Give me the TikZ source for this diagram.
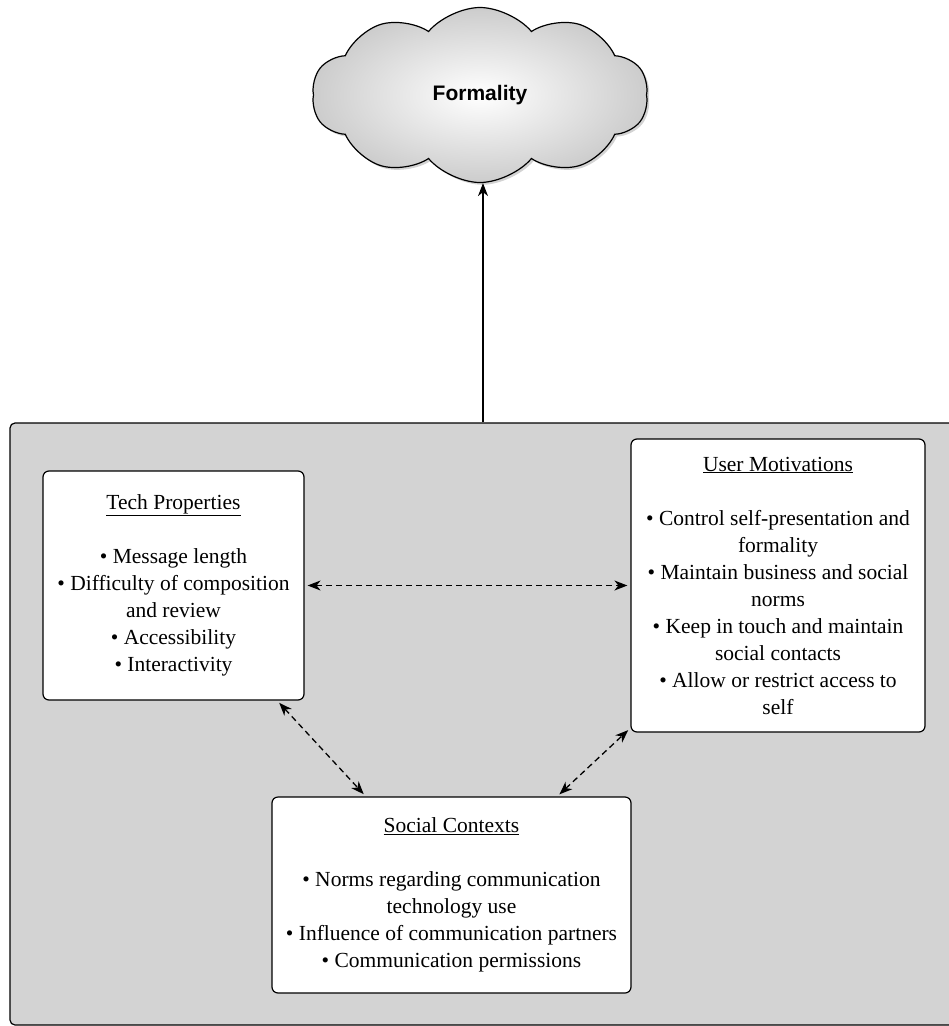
\documentclass[tikz,border=0pt]{standalone}
\usepackage{fontspec}
\setmainfont{Liberation Serif}
\setsansfont{Liberation Sans}
\usepackage{xcolor}
\usepackage{tikz}
\usetikzlibrary{shapes}
\usetikzlibrary{arrows}
\usetikzlibrary{positioning, fit, arrows.meta}
\usetikzlibrary{shadows}
\definecolor{panelgray}{RGB}{211,211,211}

\begin{document}
\begin{tikzpicture}[x=1pt, y=-1pt,
		box/.style 2 args={
			draw,
			rectangle,
			rounded corners=6pt,
			fill=white,
			line width=1.2pt,
			align=center,
			inner sep=0pt,
			minimum width=#1,
			minimum height=#2,
			font=\fontsize{21.5}{27}\selectfont},
		link/.style={
			{Stealth[length=13pt,width=10pt,inset=4pt]}-{Stealth[length=13pt,width=10pt,inset=4pt]},
			dash pattern=on 6pt off 4pt,
			line width=1.3pt,
			shorten <=3pt, shorten >=3pt}
		]
		\useasboundingbox (0,0) rectangle (949,1026);
		
		% draw the grey panel behind the three factors
		\node[draw, rectangle, rounded corners=5pt, fill=panelgray, line width=1.2pt,
			minimum width=946pt, minimum height=602pt] (panel) at (483, 724) {};
		
		% draw the cloud on top
		\node[draw, cloud, cloud puffs=10, cloud puff arc=100, aspect=2,
			line width=1.2pt, shading=radial, inner color=white, outer color=gray!40,
			drop shadow={opacity=0.35},
			minimum width=336pt, minimum height=175pt,
			font=\sffamily\bfseries\fontsize{21}{25}\selectfont] (formality) at (480, 95) {Formality};
		
		% draw the three factor boxes
		\node[box={261pt}{229pt}] (tech) at (173.5, 585.5) {\underline{Tech Properties}\\[27pt]
			• Message length\\
			• Difficulty of composition\\
			and review\\
			• Accessibility\\
			• Interactivity};
		\node[box={294pt}{293pt}] (user) at (778, 585.5) {\underline{User Motivations}\\[27pt]
			• Control self-presentation and\\
			formality\\
			• Maintain business and social\\
			norms\\
			• Keep in touch and maintain\\
			social contacts\\
			• Allow or restrict access to\\
			self};
		\node[box={359pt}{196pt}] (social) at (451.5, 895) {\underline{Social Contexts}\\[27pt]
			• Norms regarding communication\\
			technology use\\
			• Influence of communication partners\\
			• Communication permissions};
		
		% draw the links
		\draw[link] (tech.east) -- (user.west);
		\draw[link] (tech.-48) -- (social.131);
		\draw[link] (social.43) -- (user.224);
		\draw[-{Stealth[length=13pt,width=10pt,inset=4pt]}, line width=1.3pt] (panel.north) -- (panel.north |- formality.south);
		\end{tikzpicture}
\end{document}
